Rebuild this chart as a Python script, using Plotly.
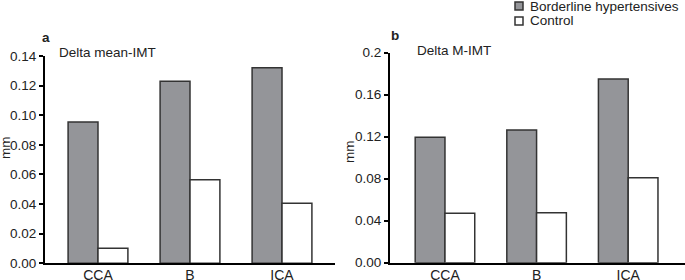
import plotly.graph_objects as go

categories = ["CCA", "B", "ICA"]
mean_imt_bh = [0.0955, 0.123, 0.132]
mean_imt_ctrl = [0.0101, 0.0565, 0.0405]
m_imt_bh = [0.1195, 0.1265, 0.175]
m_imt_ctrl = [0.047, 0.0475, 0.081]
left_ticks = [0.0, 0.02, 0.04, 0.06, 0.08, 0.10, 0.12, 0.14]
left_ticktext = ["0.00", "0.02", "0.04", "0.06", "0.08", "0.10", "0.12", "0.14"]
right_ticks = [0.0, 0.04, 0.08, 0.12, 0.16, 0.2]
right_ticktext = ["0.00", "0.04", "0.08", "0.12", "0.16", "0.2"]
series_names = ["Borderline hypertensives", "Control"]

W, H = 685, 280
FONT = "Liberation Sans, Arial, sans-serif"
FS = 13.5
GRAY = "#949599"
EDGE = "#333333"
TXT = "#222222"
fills = [GRAY, "white"]

fig = go.Figure()
for xa, ya, vals in [("x", "y", [mean_imt_bh, mean_imt_ctrl]), ("x2", "y2", [m_imt_bh, m_imt_ctrl])]:
    for name, v, c in zip(series_names, vals, fills):
        fig.add_bar(x=categories, y=v, name=name,
                    marker=dict(color=c, line=dict(color=EDGE, width=1.5)),
                    xaxis=xa, yaxis=ya, showlegend=False, hoverinfo="skip")

def px_x(p):
    return p / W

def px_y(p):
    return (H - p) / H

axis_common = dict(showgrid=False, zeroline=False, showline=True, linecolor="black",
                   linewidth=2, color="black", automargin=False,
                   tickfont=dict(family=FONT, size=FS, color=TXT))
xfont = dict(family=FONT, size=14, color=TXT)

fig.update_layout(
    width=W, height=H,
    margin=dict(l=0, r=0, t=0, b=0, autoexpand=False),
    paper_bgcolor="white", plot_bgcolor="white",
    barmode="group", bargap=0.35, bargroupgap=0,
    font=dict(family=FONT, size=FS, color=TXT),
    showlegend=False,
    xaxis=dict(domain=[px_x(45), px_x(335)], range=[-0.576, 2.576], ticks="",
               ticklabelstandoff=-2, anchor="y", **{**axis_common, "tickfont": xfont}),
    yaxis=dict(domain=[px_y(263.3), px_y(56)], range=[0, 0.14], tickvals=left_ticks,
               ticktext=left_ticktext, ticks="outside", ticklen=4, tickwidth=2,
               ticklabelstandoff=0, tickcolor="black", anchor="x", **axis_common),
    xaxis2=dict(domain=[px_x(390), px_x(685)], range=[-0.60, 2.62], ticks="",
                ticklabelstandoff=-2, anchor="y2", **{**axis_common, "tickfont": xfont}),
    yaxis2=dict(domain=[px_y(262.7), px_y(52.7)], range=[0, 0.2], tickvals=right_ticks,
                ticktext=right_ticktext, ticks="outside", ticklen=4, tickwidth=2,
                ticklabelstandoff=0, tickcolor="black", anchor="x2", **axis_common),
)

# legend (manual, to match the compact square swatches)
leg_rows = [6, 21]
for name, c, yc in zip(series_names, fills, leg_rows):
    fig.add_shape(type="rect", xref="paper", yref="paper",
                  x0=px_x(515), x1=px_x(523), y0=px_y(yc + 4), y1=px_y(yc - 4),
                  fillcolor=c, line=dict(color=EDGE, width=1.5))
    fig.add_annotation(text=name, x=px_x(529), y=px_y(yc), xref="paper", yref="paper",
                       xanchor="left", yanchor="middle", showarrow=False, borderpad=0,
                       font=dict(family=FONT, size=FS, color=TXT))

ann = [
    ("<b>a</b>", 40, 38),
    ("Delta mean-IMT", 57, 52),
    ("<b>b</b>", 389, 35),
    ("Delta M-IMT", 415, 50),
]
for t, xp, yp in ann:
    fig.add_annotation(text=t, x=px_x(xp), y=px_y(yp), xref="paper", yref="paper",
                       xanchor="left", yanchor="middle", showarrow=False,
                       font=dict(family=FONT, size=FS, color=TXT))
fig.add_annotation(text="mm", x=px_x(5), y=px_y(148), xref="paper", yref="paper",
                   textangle=-90, showarrow=False, xanchor="center", yanchor="middle",
                   font=dict(family=FONT, size=FS, color=TXT))
fig.add_annotation(text="mm", x=px_x(349), y=px_y(152), xref="paper", yref="paper",
                   textangle=-90, showarrow=False, xanchor="center", yanchor="middle",
                   font=dict(family=FONT, size=FS, color=TXT))

fig.write_html("out.html", config={"displayModeBar": False, "staticPlot": True},
               post_script="document.body.style.margin='0';document.body.style.padding='0';")
